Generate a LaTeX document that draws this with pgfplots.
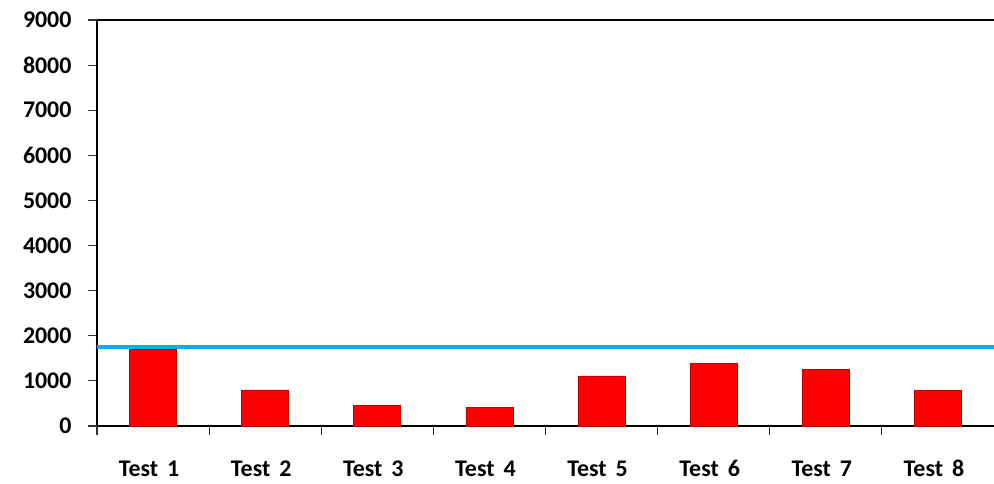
\documentclass[border=0pt]{standalone}
\usepackage{pgfplots}
\pgfplotsset{compat=1.18}
\usepackage{fontspec}
\setmainfont{Carlito}
\definecolor{barred}{RGB}{255,0,0}
\definecolor{baredge}{RGB}{190,0,0}
\definecolor{refblue}{RGB}{0,176,240}
\begin{document}
\begin{tikzpicture}[x=1bp,y=1bp]
\begin{axis}[
  at={(0,0)}, anchor=south west,
  scale only axis,
  width=897bp, height=406bp,
  xmin=0.5, xmax=8.5,
  ymin=0, ymax=9000,
  axis lines*=left,
  axis line style={line width=2.2bp, black},
  ytick={0,1000,...,9000},
  xtick={1,...,8},
  xticklabels={Test\hspace{9bp}1,Test\hspace{9bp}2,Test\hspace{9bp}3,Test\hspace{9bp}4,Test\hspace{9bp}5,Test\hspace{9bp}6,Test\hspace{9bp}7,Test\hspace{9bp}8},
  minor xtick={0.5,1.5,...,7.5},
  major tick length=9bp,
  minor tick length=9bp,
  tick align=outside,
  ytick style={line width=1.2bp, black!80},
  major x tick style={draw=none},
  minor x tick style={draw=black!80, line width=1.2bp},
  /pgf/number format/assume math mode=true,
  /pgf/number format/1000 sep={},
  tick label style={font=\fontsize{24}{28}\selectfont\bfseries},
  yticklabel style={xshift=-13bp},
  xticklabel style={anchor=base, yshift=-42bp, xshift=-4bp},
  clip=false,
]
\addplot[ybar, bar width=47bp, bar shift=0pt, fill=barred, draw=baredge, line width=0.8bp]
  coordinates {(1,1690) (2,800) (3,460) (4,420) (5,1110) (6,1390) (7,1260) (8,790)};
\addplot[refblue, line width=4bp] coordinates {(0.5,1750) (8.5,1750)};
\draw[black, line width=2.2bp] (rel axis cs:0,1) -- (rel axis cs:1,1);
\end{axis}
\pgfresetboundingbox
\path[use as bounding box] (-97,-58) rectangle (897,426);
\end{tikzpicture}
\end{document}
